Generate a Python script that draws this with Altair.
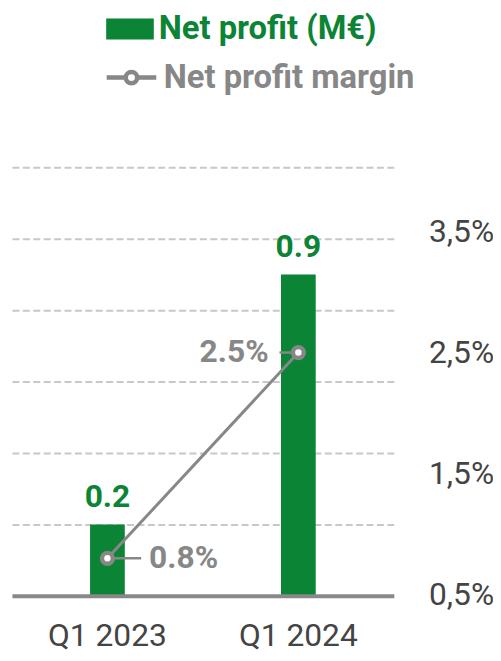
import altair as alt
import pandas as pd

quarters = ["Q1 2023", "Q1 2024"]
net_profit = [0.2, 0.9]
net_margin = [0.8, 2.5]
label_side = ["right", "left"]

GREEN = "#0b8435"
GRAY = "#878787"
DARK = "#444444"
FONT = "Roboto"

df = pd.DataFrame({
    "quarter": quarters,
    "profit": net_profit,
    "margin": net_margin,
    "side": label_side,
})
df["margin_label"] = [f"{v:.1f}%" for v in net_margin]
df["bar_series"] = "Net profit (M€)"
df["line_series"] = "Net profit margin"

base = alt.Chart(df)

x_enc = alt.X(
    "quarter:N",
    sort=quarters,
    scale=alt.Scale(paddingInner=0, paddingOuter=0),
    axis=alt.Axis(
        title=None, labelAngle=0, labelFont=FONT, labelFontSize=32,
        labelColor=DARK, labelPadding=25, ticks=False, tickSize=0,
        domainColor="#888888", domainWidth=4, grid=False, zindex=1,
    ),
)

y_profit = alt.Y(
    "profit:Q",
    scale=alt.Scale(domain=[0, 1.2], nice=False, zero=True),
    axis=alt.Axis(
        title=None, orient="left", labels=False, ticks=False, domain=False,
        grid=True, gridDash=[7, 3.5], gridColor="#c8c8c8", gridWidth=2,
        values=[0.2, 0.4, 0.6, 0.8, 1.0, 1.2],
    ),
)

bars = base.mark_bar(size=35).encode(
    x=x_enc,
    y=y_profit,
    fill=alt.Fill(
        "bar_series:N",
        scale=alt.Scale(domain=["Net profit (M€)"], range=[GREEN]),
        legend=alt.Legend(
            title=None, orient="none", legendX=95, legendY=-163.5,
            symbolType="M-1,-0.44H1V0.44H-1Z", symbolSize=2304,
            symbolStrokeWidth=0, labelFont=FONT, labelFontSize=33,
            labelFontWeight="bold", labelColor=GREEN, labelOffset=5,
            padding=0, labelLimit=400,
        ),
    ),
)

bar_text = base.mark_text(
    dy=-18, baseline="alphabetic", font=FONT, fontSize=32,
    fontWeight="bold", color=GREEN,
).encode(
    x=alt.X("quarter:N", sort=quarters),
    y="profit:Q",
    text=alt.Text("profit:Q", format=".1f"),
)

bar_layer = alt.layer(bars, bar_text)

y_margin = alt.Y(
    "margin:Q",
    scale=alt.Scale(domain=[0.49, 4.03], nice=False, zero=False),
    axis=alt.Axis(
        title=None, orient="right", ticks=False, tickSize=0, domain=False,
        grid=False, values=[0.5, 1.5, 2.5, 3.5],
        labelExpr="replace(format(datum.value, '.1f'), '.', ',') + '%'",
        labelAlign="left", labelBaseline="middle", labelPadding=35,
        labelFont=FONT, labelFontSize=32, labelColor=DARK,
    ),
)

line_symbol = "M-1,0H-0.23M0.23,0H1M0.23,0A0.23,0.23 0 1,1 -0.23,0A0.23,0.23 0 1,1 0.23,0Z"

line = base.mark_line(strokeWidth=3).encode(
    x=alt.X("quarter:N", sort=quarters),
    y=y_margin,
    stroke=alt.Stroke(
        "line_series:N",
        scale=alt.Scale(domain=["Net profit margin"], range=[GRAY]),
        legend=alt.Legend(
            title=None, orient="none", legendX=93, legendY=-118,
            symbolType=line_symbol, symbolSize=2500,
            symbolStrokeWidth=4.5, symbolFillColor="white",
            symbolStrokeColor=GRAY,
            labelFont=FONT, labelFontSize=33, labelFontWeight="bold",
            labelColor=GRAY, labelOffset=5, padding=0, labelLimit=400,
        ),
    ),
)

leader_right = base.transform_filter("datum.side == 'right'").mark_rule(
    color=GRAY, strokeWidth=2.5, x2Offset=34,
).encode(
    x=alt.X("quarter:N", sort=quarters),
    x2=alt.X2("quarter:N"),
    y="margin:Q",
)

leader_left = base.transform_filter("datum.side == 'left'").mark_rule(
    color=GRAY, strokeWidth=2.5, xOffset=-19,
).encode(
    x=alt.X("quarter:N", sort=quarters),
    x2=alt.X2("quarter:N"),
    y="margin:Q",
)

points = base.mark_circle(
    fill="white", stroke=GRAY, strokeWidth=4.5, size=120, opacity=1,
).encode(
    x=alt.X("quarter:N", sort=quarters),
    y="margin:Q",
)

label_right = base.transform_filter("datum.side == 'right'").mark_text(
    align="left", baseline="middle", dx=42, font=FONT, fontSize=32,
    fontWeight="bold", color=GRAY,
).encode(
    x=alt.X("quarter:N", sort=quarters),
    y="margin:Q",
    text="margin_label:N",
)

label_left = base.transform_filter("datum.side == 'left'").mark_text(
    align="right", baseline="middle", dx=-30, font=FONT, fontSize=32,
    fontWeight="bold", color=GRAY,
).encode(
    x=alt.X("quarter:N", sort=quarters),
    y="margin:Q",
    text="margin_label:N",
)

line_layer = alt.layer(line, leader_right, leader_left, points, label_right, label_left)

chart = alt.layer(bar_layer, line_layer).resolve_scale(
    y="independent", fill="independent", stroke="independent"
).properties(
    width=385, height=432,
    padding={"left": 4, "top": 158, "right": 100, "bottom": 60},
    autosize=alt.AutoSizeParams(type="none"),
).configure_view(strokeWidth=0)

chart.save("out.html", embed_options={"renderer": "svg", "actions": False})
